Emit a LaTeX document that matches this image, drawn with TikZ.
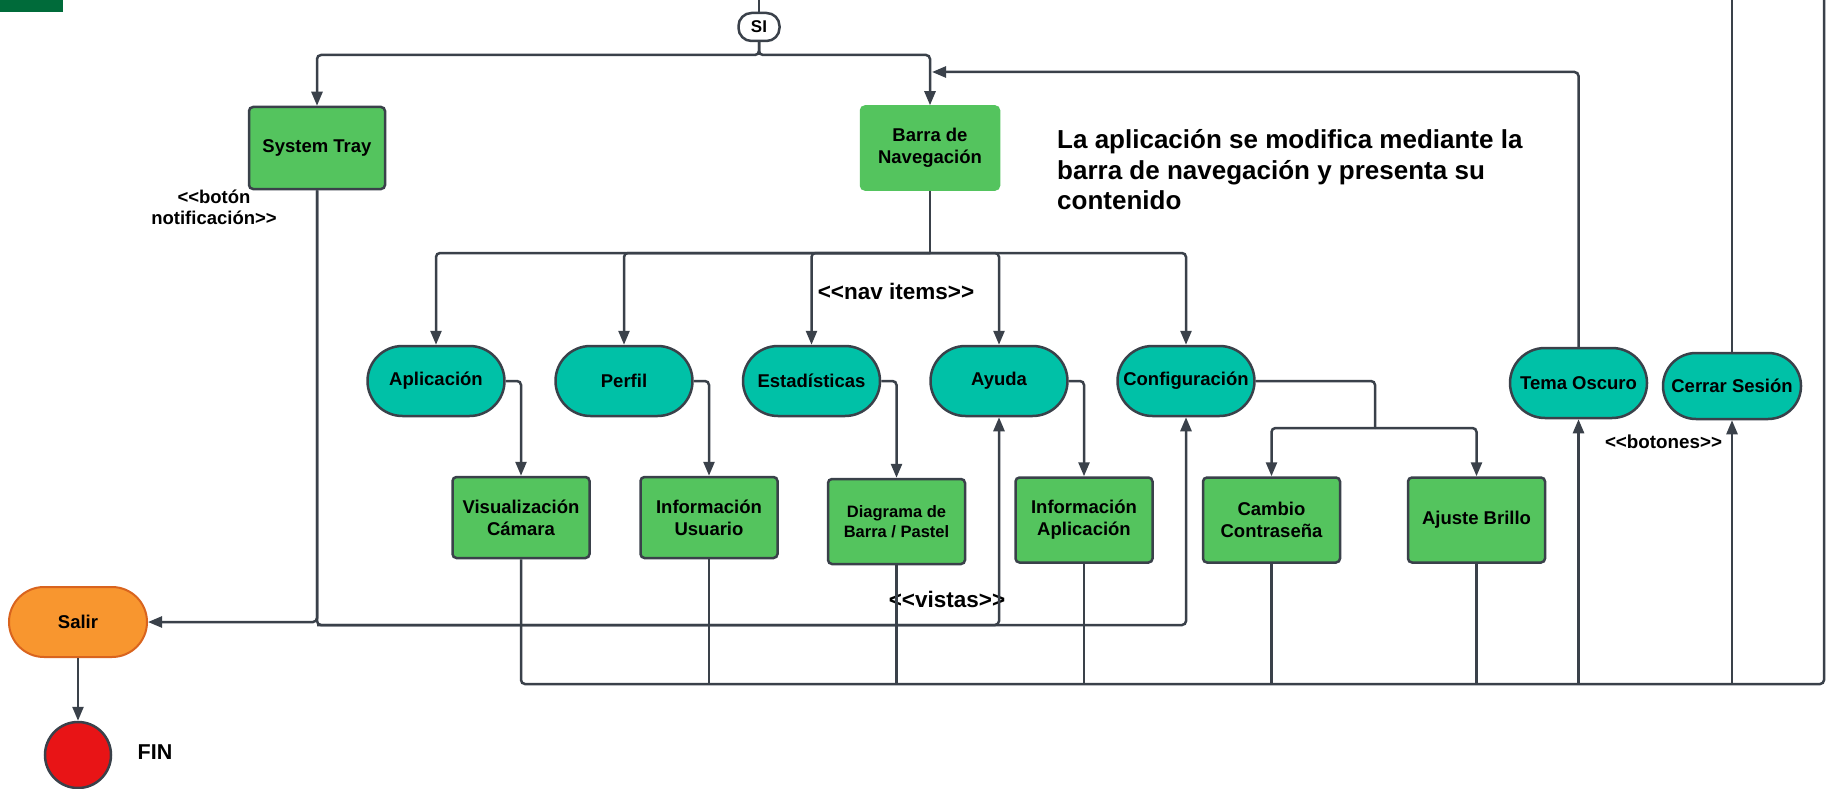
\documentclass[tikz,border=0pt]{standalone}
\usepackage{fontspec}
\setmainfont{Liberation Sans}
\usetikzlibrary{arrows.meta}

\definecolor{lineC}{HTML}{3A414A}
\definecolor{boxG}{HTML}{54C45E}
\definecolor{tealC}{HTML}{00C1A7}
\definecolor{orangeC}{HTML}{F8962F}
\definecolor{orangeD}{HTML}{D9641E}
\definecolor{redC}{HTML}{E81416}
\definecolor{darkG}{HTML}{006B3A}

% guillemet-free double angle brackets
\newcommand\openG{<\kern0pt<}
\newcommand\closeG{>\kern0pt>}
\newcommand\nodefont{\fontsize{18.5}{22}\selectfont\bfseries}

\tikzset{
  conn/.style={draw=lineC, line width=2.5pt, rounded corners=4pt},
  arr/.style={conn, -{Triangle[length=14pt,width=11pt]}},
  box/.style={draw=lineC, fill=boxG, line width=2.5pt, rounded corners=4pt,
    minimum width=137pt, minimum height=83pt, align=center, font=\nodefont,
    inner sep=0pt},
  pill/.style={draw=lineC, fill=tealC, line width=2.5pt, rounded corners=35pt,
    minimum width=137pt, minimum height=70pt, align=center, font=\nodefont,
    inner sep=0pt},
  lbl/.style={font=\fontsize{22.5}{26}\selectfont\bfseries, inner sep=0pt},
}

\begin{document}
\begin{tikzpicture}[x=1pt,y=-1pt]
\useasboundingbox (0,0) rectangle (1830,789);
\fill[white] (0,0) rectangle (1830,789);
\fill[darkG] (0,0) rectangle (63,12);

% start connector
\node[draw=lineC, fill=white, line width=2.5pt, rounded corners=13pt,
  minimum width=41pt, minimum height=28pt, inner sep=0pt,
  font=\fontsize{17}{20}\selectfont\bfseries] (si) at (759,27) {SI};

% top level
\node[box, minimum height=82pt, minimum width=136pt] (st) at (317,148) {System Tray};
\node[box, draw=boxG, minimum width=138pt] (barra) at (930,148) {Barra de\\Navegación};

\node[anchor=west, align=left, inner sep=0pt,
  font=\fontsize{26}{30.5}\selectfont\bfseries] (desc) at (1057,170)
  {La aplicación se modifica mediante la\\barra de navegación y presenta su\\contenido};

% navigation items
\node[pill] (apl) at (436,381) {Aplicación};
\node[pill] (perfil) at (624,381) {Perfil};
\node[pill] (est) at (811.5,381) {Estadísticas};
\node[pill] (ayuda) at (999,381) {Ayuda};
\node[pill] (conf) at (1186,381) {Configuración};

% views
\node[box, minimum height=81pt] (vis) at (521,517.5) {Visualización\\Cámara};
\node[box, minimum height=81pt] (iu) at (709,517.5) {Información\\Usuario};
\node[box, minimum height=85pt, font=\fontsize{16.5}{20}\selectfont\bfseries] (diag) at (896.5,521.5) {Diagrama de\\Barra / Pastel};
\node[box, minimum height=85pt] (ia) at (1084,520) {Información\\Aplicación};
\node[box, minimum height=85pt] (cambio) at (1271.5,520) {Cambio\\Contraseña};
\node[box, minimum height=85pt] (brillo) at (1476.5,520) {Ajuste Brillo};

% buttons
\node[pill] (tema) at (1578.5,383) {Tema Oscuro};
\node[pill, minimum width=138pt, minimum height=66pt, rounded corners=33pt] (cerrar) at (1732,386) {Cerrar Sesión};

% exit and end
\node[pill, fill=orangeC, draw=orangeD, line width=2pt, minimum width=138pt] (salir) at (78,622) {Salir};
\node[circle, draw=lineC, fill=redC, line width=2.5pt, minimum size=66pt, inner sep=0pt] (fin) at (78,755) {};
\node[font=\fontsize{21.5}{24}\selectfont\bfseries, inner sep=0pt] (finlbl) at (155,752) {FIN};

% stereotype labels
\node[align=center, inner sep=0pt, font=\fontsize{18.5}{21}\selectfont\bfseries] (botonlbl) at (214,207) {\openG botón\\notificación\closeG};
\node[lbl] (navlbl) at (896,291) {\openG nav items\closeG};
\node[lbl] (vistaslbl) at (947,599) {\openG vistas\closeG};
\node[lbl, font=\fontsize{18.8}{22}\selectfont\bfseries] (botoneslbl) at (1663.5,442) {\openG botones\closeG};

% free ends at the top edge
\coordinate (topSi) at (759,0);
\coordinate (topCerrar) at (1732,0);
\coordinate (topRight) at (1824,0);
\coordinate (sj) at (759,55);
\coordinate (barraIn) at (932,72);
\coordinate (nb) at (930,253);
\coordinate (cj) at (1375,428);
\coordinate (stj) at (317,625);
\coordinate (busEnd) at (1824,684);

% SI branches
\draw[conn] (topSi) -- (si.north);
\draw[arr] (si.south) -- (sj) -| (st.north);
\draw[arr] (si.south) -- (sj) -| (barra.north);

% navigation bus
\draw[conn] (barra.south) -- (nb);
\draw[arr] (nb) -| (apl.north);
\draw[arr] (nb) -| (perfil.north);
\draw[arr] (nb) -| (est.north);
\draw[arr] (nb) -| (ayuda.north);
\draw[arr] (nb) -| (conf.north);

% items to views
\draw[arr] (apl.east) -| (vis.north);
\draw[arr] (perfil.east) -| (iu.north);
\draw[arr] (est.east) -| (diag.north);
\draw[arr] (ayuda.east) -| (ia.north);
\draw[conn] (conf.east) -| (cj);
\draw[arr] (cj) -| (cambio.north);
\draw[arr] (cj) -| (brillo.north);

% system tray menu
\draw[arr] (st.south) |- (salir.east);
\draw[arr] (st.south) -- (stj) -| (ayuda.south);
\draw[arr] (stj) -| (conf.south);
\draw[arr] (salir.south) -- (fin.north);

% views bus to buttons
\draw[conn] (vis.south) |- (busEnd) -- (topRight);
\draw[conn] (iu.south) -- (iu.south |- busEnd);
\draw[conn] (diag.south) -- (diag.south |- busEnd);
\draw[conn] (ia.south) -- (ia.south |- busEnd);
\draw[conn] (cambio.south) -- (cambio.south |- busEnd);
\draw[conn] (brillo.south) -- (brillo.south |- busEnd);
\draw[arr] (tema.south |- busEnd) -- (tema.south);
\draw[arr] (cerrar.south |- busEnd) -- (cerrar.south);

% buttons back to navigation
\draw[arr] (tema.north) |- (barraIn);
\draw[conn] (cerrar.north) -- (topCerrar);
\end{tikzpicture}
\end{document}
